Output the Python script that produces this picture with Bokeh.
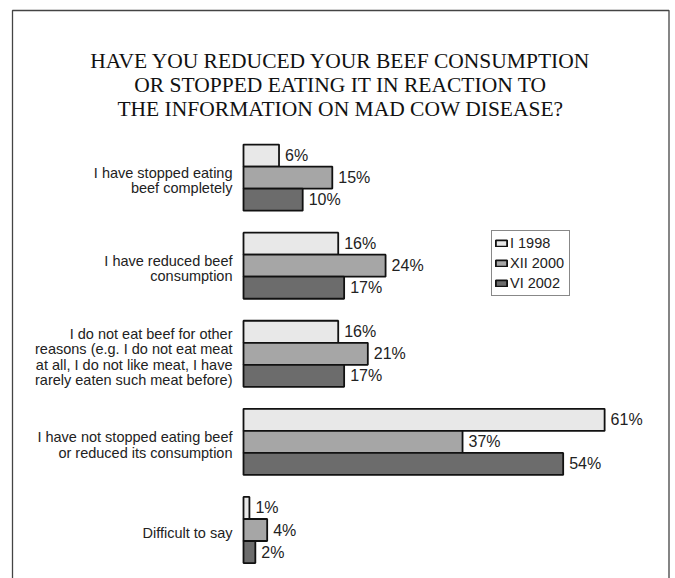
from bokeh.plotting import figure
from bokeh.models import ColumnDataSource, Range1d, Label, Legend, LegendItem
from bokeh.core.properties import value
from bokeh.transform import dodge
from bokeh.embed import file_html
from bokeh.resources import INLINE

# ---------------- data ----------------
title_lines = [
    "HAVE YOU REDUCED YOUR BEEF CONSUMPTION",
    "OR STOPPED EATING IT IN REACTION TO",
    "THE INFORMATION ON MAD COW DISEASE?",
]
categories = [
    "I have stopped eating\nbeef completely",
    "I have reduced beef\nconsumption",
    "I do not eat beef for other\nreasons (e.g. I do not eat meat\nat all, I do not like meat, I have\nrarely eaten such meat before)",
    "I have not stopped eating beef\nor reduced its consumption",
    "Difficult to say",
]
series = ["I 1998", "XII 2000", "VI 2002"]
v1998 = [6, 16, 16, 61, 1]
v2000 = [15, 24, 21, 37, 4]
v2002 = [10, 17, 17, 54, 2]
values_by_series = [v1998, v2000, v2002]
colors = ["#e8e8e8", "#a6a6a6", "#6c6c6c"]

# ---------------- layout ----------------
W, H = 673, 578
PX_PER_PCT = 5.92
ORIGIN_PX = 243.0
GROUP_PX = 88.1
FIRST_CENTER_PX = 177.1
BAR_H = 0.25
offsets = [-0.25, 0.0, 0.25]

x_start = -ORIGIN_PX / PX_PER_PCT
x_end = (W - ORIGIN_PX) / PX_PER_PCT
y_top = -FIRST_CENTER_PX / GROUP_PX
y_bottom = (H - FIRST_CENTER_PX) / GROUP_PX

p = figure(width=W, height=H, output_backend="svg", toolbar_location=None,
           x_range=Range1d(x_start, x_end), y_range=Range1d(y_bottom, y_top),
           min_border=0, outline_line_color=None, background_fill_color="white",
           border_fill_color="white")
p.xaxis.visible = False
p.yaxis.visible = False
p.xgrid.visible = False
p.ygrid.visible = False

# page frame (decoration): left/top/right edges, bottom falls outside the view
def cx(px):
    return x_start + px / PX_PER_PCT

def cy(px):
    return y_top + px / GROUP_PX

p.line(x=[cx(12), cx(12), cx(668.5), cx(668.5)], y=[cy(640), cy(10), cy(10), cy(640)],
       line_color="#444444", line_width=1.3)

idx = list(range(len(categories)))
legend_items = []
for k, (name, vals, col) in enumerate(zip(series, values_by_series, colors)):
    src = ColumnDataSource(dict(y=idx, x=vals, label=[f"{v}%" for v in vals]))
    r = p.hbar(y=dodge("y", offsets[k]), left=0, right="x", height=BAR_H, source=src,
               fill_color=col, line_color="#111111", line_width=1.8)
    p.text(x="x", y=dodge("y", offsets[k]), text="label", source=src,
           x_offset=6, text_baseline="middle", text_align="left",
           text_font=value("Liberation Sans"), text_font_size="16px",
           text_color="#222222")
    legend_items.append(LegendItem(label=name, renderers=[r]))

cat_src = ColumnDataSource(dict(y=idx, x=[0] * len(categories), label=categories))
p.text(x="x", y="y", text="label", source=cat_src, x_offset=-11, y_offset=3,
       text_align="right", text_baseline="middle",
       text_font=value("Liberation Sans"), text_font_size="14.5px",
       text_line_height=0.97, text_color="#222222")

legend = Legend(items=legend_items, location=(491, 282), orientation="vertical",
                padding=2, spacing=0, margin=0, label_height=20, label_width=57,
                glyph_width=14, glyph_height=8, label_standoff=2,
                label_text_font="Liberation Sans", label_text_font_size="14.5px",
                label_text_color="#222222",
                border_line_color="#111111", border_line_width=1.5,
                background_fill_color="white", background_fill_alpha=1.0)
p.add_layout(legend)

baselines = [518, 494, 470]
for line, yb in zip(title_lines, baselines):
    p.add_layout(Label(x=340, y=yb, x_units="screen", y_units="screen", text=line,
                       text_align="center", text_baseline="alphabetic",
                       text_font="Liberation Serif", text_font_size="21.5px",
                       text_color="#111111"))

open("out.html", "w").write(file_html(p, INLINE))
